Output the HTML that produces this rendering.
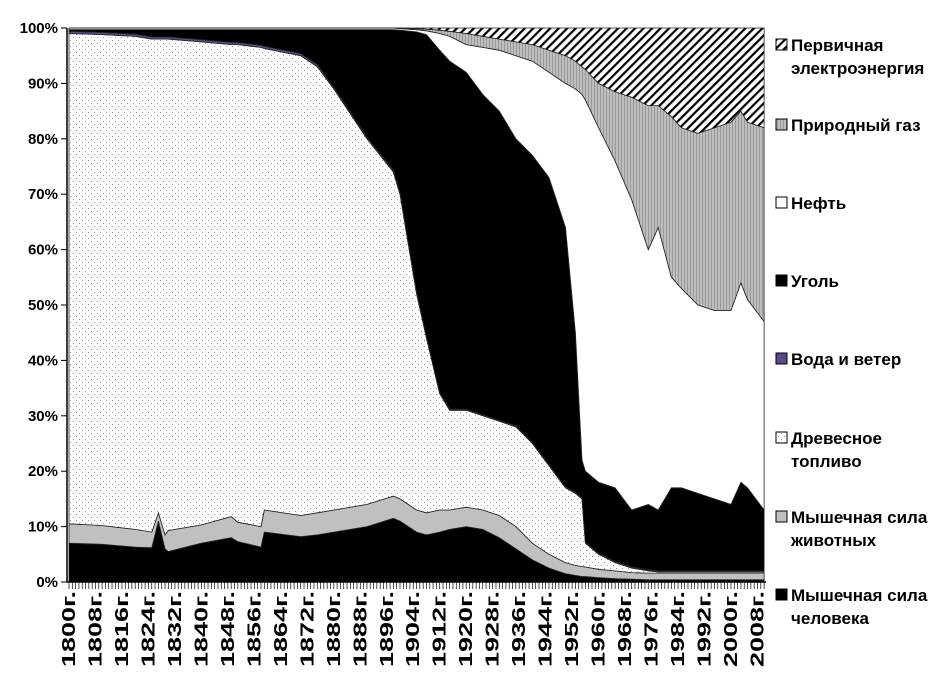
<!DOCTYPE html>
<html><head><meta charset="utf-8"><style>
body{margin:0;background:#fff;width:946px;height:677px;overflow:hidden;font-family:"Liberation Sans",sans-serif}
svg text{font-family:"Liberation Sans",sans-serif;font-weight:bold}
</style></head><body>
<svg id="chart" width="946" height="677" xmlns="http://www.w3.org/2000/svg">
<defs>
<pattern id="pDots" width="6" height="6" patternUnits="userSpaceOnUse"><rect width="6" height="6" fill="#fff"/><rect x="1" y="1" width="1" height="1" fill="#999"/><rect x="4" y="4" width="1" height="1" fill="#999"/></pattern>
<pattern id="pHatch" width="6" height="6" patternUnits="userSpaceOnUse" patternTransform="rotate(45)"><rect width="6" height="6" fill="#fff"/><rect width="2.2" height="6" fill="#000"/></pattern>
<pattern id="pGas" width="3" height="3" patternUnits="userSpaceOnUse"><rect width="3" height="3" fill="#bdbdbd"/><rect width="1" height="3" fill="#999"/></pattern>
</defs>
<g id="areas"></g>
<g id="axes"></g>
<g id="legend"></g>
</svg>
<script>
const years=[1800,1810,1820,1825,1827,1829,1830,1840,1849,1851,1858,1859,1870,1875,1880,1890,1898,1900,1905,1908,1912,1915,1920,1925,1930,1935,1940,1945,1950,1953,1955,1956,1960,1965,1970,1975,1978,1982,1985,1990,1995,2000,2003,2005,2010];
const humanTop=[7,6.8,6.3,6.2,11,6,5.5,7,8,7.3,6.3,9,8.2,8.5,9,10,11.5,11,9,8.5,9,9.5,10,9.5,8,6,4,2.5,1.5,1.2,1,1,0.8,0.6,0.5,0.4,0.4,0.4,0.4,0.4,0.4,0.4,0.4,0.4,0.4];
const animalTop=[10.5,10.2,9.5,9,12.5,8.5,9.3,10.3,11.8,10.8,10,13,12,12.5,13,14,15.5,15,13,12.5,13,13,13.5,13,12,10,7,5,3.5,3,2.8,2.7,2.3,2,1.7,1.6,1.6,1.6,1.6,1.6,1.6,1.6,1.6,1.6,1.6];
const woodTop=[99,98.8,98.5,98,98,98,98,97.5,97,97,96.5,96.3,95,93,89,80,74,70,52,44,34,31,31,30,29,28,25,21,17,16,15,7,5,3.5,2.5,2,1.8,1.8,1.8,1.8,1.8,1.8,1.8,1.8,1.8];
const waterTop=[99.4,99.2,98.9,98.4,98.4,98.4,98.4,97.9,97.4,97.4,96.9,96.7,95.4,93.4,89.3,80.3,74.3,70.3,52.3,44.2,34.2,31.2,31.2,30.2,29.2,28.2,25.2,21.2,17.2,16.2,15.2,7.2,5.2,3.7,2.7,2.2,2,2,2,2,2,2,2,2,2];
const coalTop=[99.7,99.7,99.7,99.7,99.7,99.7,99.7,99.7,99.7,99.7,99.7,99.7,99.7,99.7,99.7,99.7,99.7,99.6,99.3,98.8,96,94,92,88,85,80,77,73,64,45,22,20,18,17,13,14,13,17,17,16,15,14,18,17,13];
const oilTop=[100,100,100,100,100,100,100,100,100,100,100,100,100,100,100,100,100,99.9,99.7,99.5,99,98.5,97,96.5,96,95,94,92,90,89,88,87,82,76,69,60,64,55,53,50,49,49,54,51,47];
const gasTop=[100,100,100,100,100,100,100,100,100,100,100,100,100,100,100,100,100,100,99.9,99.8,99.6,99.4,99,98.5,98,97.5,97,96,95,94,93,92.5,90,88.5,87.5,86,86,84,82,81,82,83,85,83,82];
const elecTop=years.map(()=>100);
const yTicks=[0,10,20,30,40,50,60,70,80,90,100];
const xLabels=[1800,1808,1816,1824,1832,1840,1848,1856,1864,1872,1880,1888,1896,1904,1912,1920,1928,1936,1944,1952,1960,1968,1976,1984,1992,2000,2008];

const NS="http://www.w3.org/2000/svg";
const X0=69,XS=3.31,Y0=582,YH=554;
const xs=y=>X0+(y-1800)*XS;
const ys=v=>Y0-v/100*YH;
function mk(tag,attrs,parent){const e=document.createElementNS(NS,tag);for(const k in attrs)e.setAttribute(k,attrs[k]);parent.appendChild(e);return e;}
const areas=document.getElementById('areas');
const zero=years.map(()=>0);
const layers=[
 ['human-muscle-area',humanTop,zero,'#000'],
 ['animal-muscle-area',animalTop,humanTop,'#c0c0c0'],
 ['wood-fuel-area',woodTop,animalTop,'url(#pDots)'],
 ['water-wind-area',waterTop,woodTop,'#5a4a8a'],
 ['coal-area',coalTop,waterTop,'#000'],
 ['oil-area',oilTop,coalTop,'#fff'],
 ['gas-area',gasTop,oilTop,'url(#pGas)'],
 ['primary-electricity-area',elecTop,gasTop,'url(#pHatch)']
];
layers.forEach(([name,top,bot,fill])=>{
 let d='';
 years.forEach((y,i)=>{d+=(i?'L':'M')+xs(y).toFixed(1)+','+ys(Math.max(top[i],bot[i])).toFixed(1);});
 for(let i=years.length-1;i>=0;i--)d+='L'+xs(years[i]).toFixed(1)+','+ys(bot[i]).toFixed(1);
 const p=mk('path',{d:d+'Z',fill:fill,stroke:'#222','stroke-width':'0.8'},areas);
 
 
});
const axes=document.getElementById('axes');
mk('line',{x1:67,y1:28,x2:67,y2:Y0,stroke:'#000','stroke-width':1.5},axes);
mk('line',{x1:67,y1:Y0,x2:xs(2010)+2,y2:Y0,stroke:'#000','stroke-width':1.5},axes);
yTicks.forEach(v=>{
 mk('line',{x1:61,y1:ys(v),x2:67,y2:ys(v),stroke:'#000'},axes);
 const t=mk('text',{x:58,y:ys(v)+5,'text-anchor':'end','font-size':15},axes);
 t.textContent=v+'%';
 
 
});
for(let y=1800;y<=2010;y++)mk('line',{x1:xs(y),y1:Y0,x2:xs(y),y2:Y0+7,stroke:'#000','stroke-width':0.7},axes);
xLabels.forEach(y=>{
 const t=mk('text',{transform:`translate(${xs(y)+6},${Y0+9}) rotate(-90)`,'text-anchor':'end','font-size':18,textLength:76,lengthAdjust:'spacingAndGlyphs'},axes);
 t.textContent=y+'г.';
 
 
});
const legend=document.getElementById('legend');
const leg=[
 ['legend-primary-electricity',['Первичная','электроэнергия'],'url(#pHatch)',50],
 ['legend-natural-gas',['Природный газ'],'url(#pGas)',130],
 ['legend-oil',['Нефть'],'#fff',208],
 ['legend-coal',['Уголь'],'#000',286],
 ['legend-water-wind',['Вода и ветер'],'#5a4a8a',364],
 ['legend-wood-fuel',['Древесное','топливо'],'url(#pDots)',443],
 ['legend-animal-muscle',['Мышечная сила','животных'],'#c0c0c0',522],
 ['legend-human-muscle',['Мышечная сила','человека'],'#000',600]
];
leg.forEach(([name,lines,fill,y])=>{
 const g=mk('g',{},legend);
 
 
 mk('rect',{x:776,y:y-11,width:11,height:11,fill:fill,stroke:'#000','stroke-width':1},g);
 lines.forEach((l,i)=>{const t=mk('text',{x:791,y:y+1+i*23,'font-size':17},g);t.textContent=l;});
});
</script>
</body></html>
